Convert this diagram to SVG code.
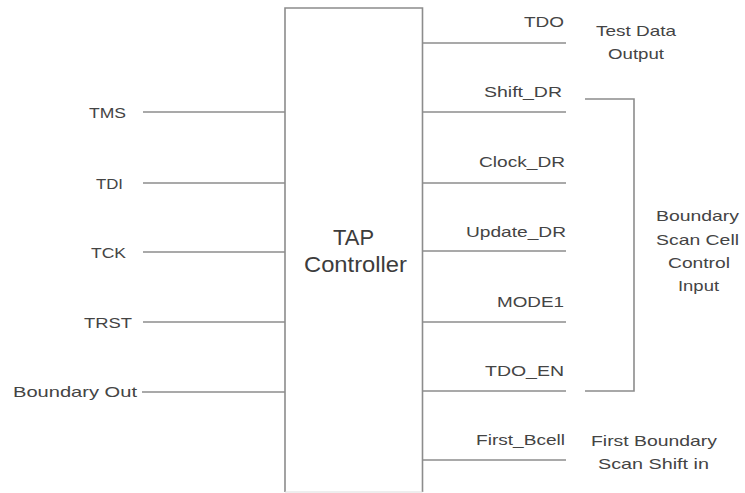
<svg xmlns="http://www.w3.org/2000/svg" width="745" height="493" viewBox="0 0 745 493">
<style>
.ln{stroke:#8c8c8c;stroke-width:1.6;fill:none}
.t{font-family:"Liberation Sans",Arial,sans-serif;font-size:14.5px;fill:#444444}
.big{font-family:"Liberation Sans",Arial,sans-serif;font-size:22px;fill:#3c3c3c}
</style>
<rect width="745" height="493" fill="#ffffff"/>
<g id="tap-controller">
<polyline class="ln" points="285,492 285,8 422.5,8 422.5,492"/>
<line x1="285" y1="492" x2="422.5" y2="492" stroke="#dddddd" stroke-width="1"/>
<text class="big" x="333" y="245" textLength="41" lengthAdjust="spacingAndGlyphs">TAP</text>
<text class="big" x="304" y="272" textLength="103" lengthAdjust="spacingAndGlyphs">Controller</text>
</g>
<g id="connectors">
<line class="ln" x1="143" y1="112" x2="285" y2="112"/>
<line class="ln" x1="143" y1="183" x2="285" y2="183"/>
<line class="ln" x1="143" y1="252" x2="285" y2="252"/>
<line class="ln" x1="143" y1="322" x2="285" y2="322"/>
<line class="ln" x1="142" y1="392" x2="285" y2="392"/>
<line class="ln" x1="423" y1="43" x2="566" y2="43"/>
<line class="ln" x1="423" y1="112" x2="566" y2="112"/>
<line class="ln" x1="423" y1="183" x2="566" y2="183"/>
<line class="ln" x1="423" y1="251" x2="566" y2="251"/>
<line class="ln" x1="423" y1="322" x2="566" y2="322"/>
<line class="ln" x1="423" y1="391" x2="566" y2="391"/>
<line class="ln" x1="423" y1="460" x2="566" y2="460"/>
<polyline class="ln" points="585,99 634,99 634,391 585,391"/>
</g>
<g id="in-tms"><text class="t" x="89" y="118" textLength="37" lengthAdjust="spacingAndGlyphs">TMS</text></g>
<g id="in-tdi"><text class="t" x="96" y="189" textLength="27" lengthAdjust="spacingAndGlyphs">TDI</text></g>
<g id="in-tck"><text class="t" x="91" y="258" textLength="35" lengthAdjust="spacingAndGlyphs">TCK</text></g>
<g id="in-trst"><text class="t" x="84" y="328" textLength="48" lengthAdjust="spacingAndGlyphs">TRST</text></g>
<g id="in-bout"><text class="t" x="13" y="397" textLength="124" lengthAdjust="spacingAndGlyphs">Boundary Out</text></g>
<g id="out-tdo"><text class="t" x="524" y="27" textLength="40" lengthAdjust="spacingAndGlyphs">TDO</text></g>
<g id="out-shift"><text class="t" x="484" y="97" textLength="78" lengthAdjust="spacingAndGlyphs">Shift_DR</text></g>
<g id="out-clock"><text class="t" x="479" y="167" textLength="86" lengthAdjust="spacingAndGlyphs">Clock_DR</text></g>
<g id="out-update"><text class="t" x="466" y="237" textLength="100" lengthAdjust="spacingAndGlyphs">Update_DR</text></g>
<g id="out-mode1"><text class="t" x="497" y="307" textLength="67" lengthAdjust="spacingAndGlyphs">MODE1</text></g>
<g id="out-tdoen"><text class="t" x="485" y="376" textLength="79" lengthAdjust="spacingAndGlyphs">TDO_EN</text></g>
<g id="out-firstbcell"><text class="t" x="476" y="445" textLength="89" lengthAdjust="spacingAndGlyphs">First_Bcell</text></g>
<g id="note-tdo">
<text class="t" x="596" y="36" textLength="80" lengthAdjust="spacingAndGlyphs">Test Data</text>
<text class="t" x="608" y="59" textLength="56" lengthAdjust="spacingAndGlyphs">Output</text>
</g>
<g id="note-bscan">
<text class="t" x="656" y="221" textLength="83" lengthAdjust="spacingAndGlyphs">Boundary</text>
<text class="t" x="656" y="245" textLength="83" lengthAdjust="spacingAndGlyphs">Scan Cell</text>
<text class="t" x="668" y="268" textLength="62" lengthAdjust="spacingAndGlyphs">Control</text>
<text class="t" x="678" y="291" textLength="41" lengthAdjust="spacingAndGlyphs">Input</text>
</g>
<g id="note-first">
<text class="t" x="591" y="446" textLength="126" lengthAdjust="spacingAndGlyphs">First Boundary</text>
<text class="t" x="598" y="469" textLength="111" lengthAdjust="spacingAndGlyphs">Scan Shift in</text>
</g>
</svg>
